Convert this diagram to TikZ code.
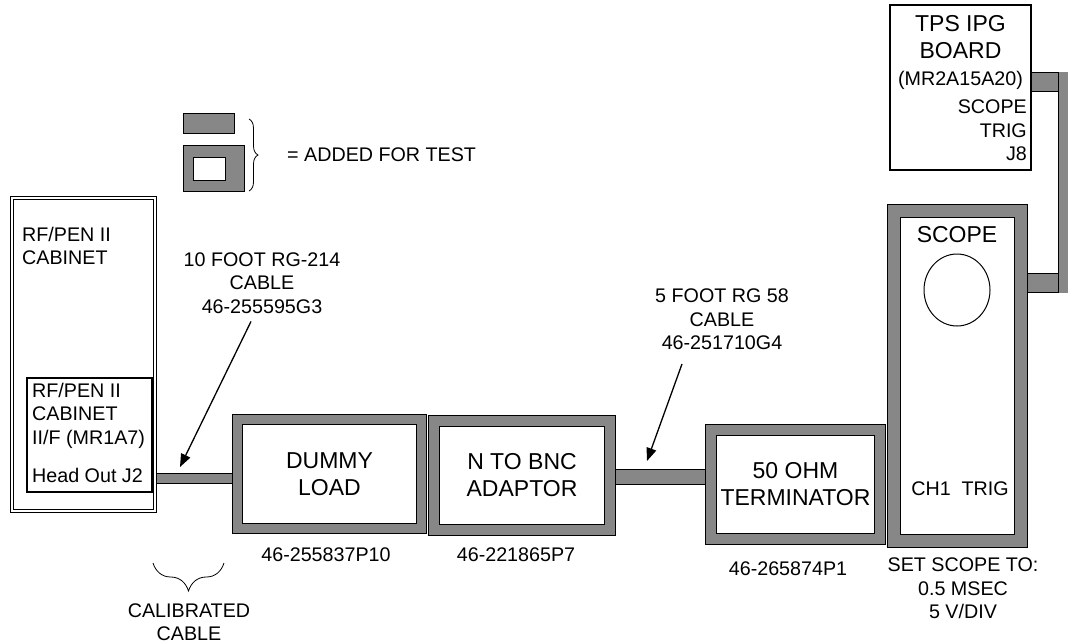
\documentclass[tikz,border=0pt]{standalone}
\usepackage{fontspec}
\setmainfont{Liberation Sans}
\usetikzlibrary{positioning,arrows.meta,shapes.geometric,decorations.pathreplacing,backgrounds}
\definecolor{rigGray}{HTML}{878787}
\newcommand{\unitfont}{\fontsize{23}{27}\selectfont}
\newcommand{\notefont}{\fontsize{19.7}{23.3}\selectfont}
\tikzset{
  testUnit/.style={draw, line width=1pt, double=rigGray, double distance=10pt, fill=white, inner sep=0pt, font=\unitfont, align=center},
  plainBox/.style={draw, line width=1.2pt, fill=white, inner sep=0pt},
  cableRun/.style={draw, line width=1pt, double=rigGray, double distance=#1},
  cableRun/.default=9pt,
  noteText/.style={font=\notefont, align=center, inner sep=0pt},
  pointer/.style={-{Triangle[length=13pt,width=10pt]}, line width=1.3pt},
  curly/.style={decorate, decoration={brace, amplitude=#1}, line width=0.8pt}
}

\begin{document}
\begin{tikzpicture}[x=1pt, y=-1pt, font=\notefont]
  \useasboundingbox (0,0) rectangle (1068,643);

  \node[draw, line width=1pt, double, double distance=2pt, fill=white, minimum width=143pt, minimum height=313pt, inner sep=0pt] (cab) at (83,354.5) {};
  \node[plainBox, minimum width=125pt, minimum height=114pt] (iface) at (89.5,435) {};
  \node[noteText, anchor=north west, align=left] (cabtxt) at (22,227) {RF/PEN II\\CABINET};
  \node[noteText, anchor=north west, align=left] (iftxt) at (32,383) {RF/PEN II\\CABINET\\II/F (MR1A7)\\[15pt]Head Out J2};

  \node[testUnit, double distance=9pt, minimum width=184pt, minimum height=109pt] (load) at (329.5,474) {DUMMY\\LOAD};
  \node[testUnit, minimum width=176pt, minimum height=109pt] (adaptor) at (522,475.5) {N TO BNC\\ADAPTOR};
  \node[testUnit, minimum width=169pt, minimum height=109pt] (term) at (795.5,484.5) {50 OHM\\TERMINATOR};
  \node[testUnit, double distance=12pt, minimum width=127pt, minimum height=330pt] (scope) at (957.5,376) {};
  \node[font=\unitfont, inner sep=0pt] (scopename) at (957,235) {SCOPE};
  \node[draw, ellipse, line width=1pt, minimum width=66pt, minimum height=72pt, inner sep=0pt] (screen) at (957,290) {};
  \node[noteText] (inputs) at (960,489) {CH1\ \ TRIG};

  \node[plainBox, minimum width=141pt, minimum height=165pt] (tps) at (960.5,87.5) {};
  \node[font=\unitfont, align=center, inner sep=0pt, anchor=north] (tpsname) at (960.5,15) {TPS IPG\\BOARD};
  \node[noteText] (tpsref) at (960.5,80) {(MR2A15A20)};
  \node[noteText, align=right, anchor=north east] (tpsport) at (1027,100) {SCOPE\\TRIG\\J8};

  % legend
  \node[draw, line width=1pt, fill=rigGray, minimum width=51pt, minimum height=20pt, inner sep=0pt] (keyCable) at (208.5,123) {};
  \node[draw, line width=1pt, fill=rigGray, minimum width=61pt, minimum height=46pt, inner sep=0pt] (keyUnit) at (213.5,168) {};
  \node[draw, line width=1pt, fill=white, minimum width=32pt, minimum height=23pt, inner sep=0pt] (keyHole) at (209,168.5) {};
  \draw[curly=9pt] (249,119) -- (249,191);
  \node[noteText, anchor=west] (keytxt) at (287,155) {= ADDED FOR TEST};

  \node[noteText] (rg214) at (262,283) {10 FOOT RG-214\\CABLE\\46-255595G3};
  \node[noteText] (rg58) at (722,319.5) {5 FOOT RG 58\\CABLE\\46-251710G4};
  \coordinate (tip214) at (180,467);
  \coordinate (tip58) at (647,461);
  \draw[pointer] ([shift={(-11pt,-8pt)}]rg214.south) -- (tip214);
  \draw[pointer] ([shift={(-40pt,-14pt)}]rg58.south) -- (tip58);

  \node[noteText] (pnLoad) at (326,555) {46-255837P10};
  \node[noteText] (pnAdaptor) at (516,555) {46-221865P7};
  \node[noteText] (pnTerm) at (788,569) {46-265874P1};
  \node[noteText] (setup) at (963,588.5) {SET SCOPE TO:\\0.5 MSEC\\5 V/DIV};

  \draw[curly=28pt] (224,563) -- (153,563);
  \node[noteText] (calib) at (189,622) {CALIBRATED\\CABLE};

  % cable runs
  \begin{scope}[on background layer]
    \clip (0,0) rectangle (1068,643);
    \coordinate (jack) at (0,478);
    \coordinate (bnc) at (0,477);
    \coordinate (trigTop) at (1068,82);
    \coordinate (trigLow) at (1068,283);
    \draw[cableRun] (cab.east |- jack) -- (load.west |- jack);
    \draw[cableRun=14pt] (adaptor.east |- bnc) -- (term.west |- bnc);
    \draw[cableRun=18pt] (tps.east |- trigTop) -- ([xshift=-10pt]trigTop);
    \draw[cableRun=18pt] ([yshift=10pt]trigTop) -- ([yshift=-10pt]trigLow);
    \draw[cableRun=18pt] ([xshift=-10pt]trigLow) -- (scope.east |- trigLow);
  \end{scope}
\end{tikzpicture}
\end{document}
